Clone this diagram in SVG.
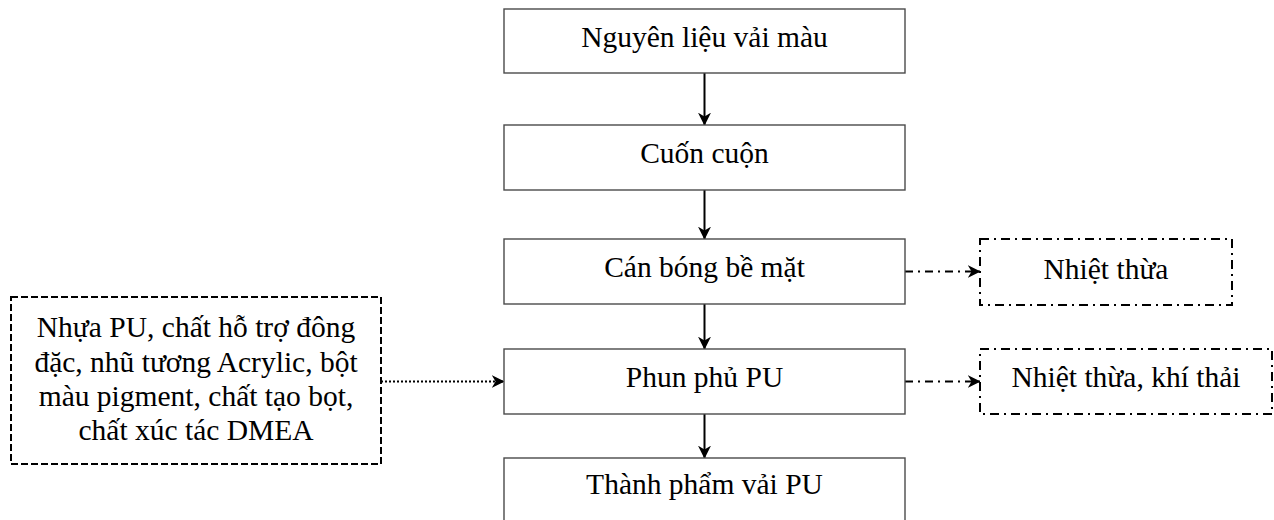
<svg xmlns="http://www.w3.org/2000/svg" width="1274" height="520" viewBox="0 0 1274 520">
<defs>
<marker id="arr" viewBox="0 0 10 10" refX="9.5" refY="5" markerWidth="6.5" markerHeight="6.5" orient="auto" markerUnits="strokeWidth">
<path d="M0,0 L10,5 L0,10 L3,5 Z" fill="#000"/>
</marker>
<style>
.box{fill:#fff;stroke:#4a4a4a;stroke-width:1.4}
.dash{fill:#fff;stroke:#000;stroke-width:2;stroke-dasharray:7 3}
.dd{fill:#fff;stroke:#000;stroke-width:2;stroke-dasharray:9 5 2 5}
text{font-family:"Liberation Serif","Times New Roman",serif;font-size:29.5px;fill:#000;text-anchor:middle}
.solid{stroke:#000;stroke-width:2;fill:none;marker-end:url(#arr)}
.dot{stroke:#000;stroke-width:2;fill:none;stroke-dasharray:2 2;marker-end:url(#arr)}
.dashdot{stroke:#000;stroke-width:2;fill:none;stroke-dasharray:8 5 2 5;marker-end:url(#arr)}
</style>
</defs>
<rect width="1274" height="520" fill="#fff"/>
<g id="connectors">
<line class="solid" x1="704.5" y1="73" x2="704.5" y2="125"/>
<line class="solid" x1="704.5" y1="190" x2="704.5" y2="239"/>
<line class="solid" x1="704.5" y1="304" x2="704.5" y2="349"/>
<line class="solid" x1="704.5" y1="414" x2="704.5" y2="458"/>
<line class="dot" x1="381" y1="381.5" x2="504" y2="381.5"/>
<line class="dashdot" x1="905" y1="271.5" x2="980" y2="271.5"/>
<line class="dashdot" x1="905" y1="381.5" x2="980" y2="381.5"/>
</g>
<g id="n1"><rect class="box" x="504" y="9" width="401" height="64"/><text x="704.5" y="47">Nguyên liệu vải màu</text></g>
<g id="n2"><rect class="box" x="504" y="125" width="401" height="65"/><text x="704.5" y="163">Cuốn cuộn</text></g>
<g id="n3"><rect class="box" x="504" y="239" width="401" height="65"/><text x="704.5" y="277">Cán bóng bề mặt</text></g>
<g id="n4"><rect class="box" x="504" y="349" width="401" height="65"/><text x="704.5" y="387">Phun phủ PU</text></g>
<g id="n5"><rect class="box" x="504" y="458" width="401" height="70"/><text x="704.5" y="494">Thành phẩm vải PU</text></g>
<g id="n6"><rect class="dd" x="980" y="239" width="252" height="66"/><text x="1106" y="279">Nhiệt thừa</text></g>
<g id="n7"><rect class="dd" x="980" y="349" width="292" height="65"/><text x="1126" y="387">Nhiệt thừa, khí thải</text></g>
<g id="n8"><rect class="dash" x="11" y="297" width="370" height="167"/>
<text x="196" y="337">Nhựa PU, chất hỗ trợ đông</text>
<text x="196" y="371.5">đặc, nhũ tương Acrylic, bột</text>
<text x="196" y="406">màu pigment, chất tạo bọt,</text>
<text x="196" y="440">chất xúc tác DMEA</text>
</g>
</svg>
